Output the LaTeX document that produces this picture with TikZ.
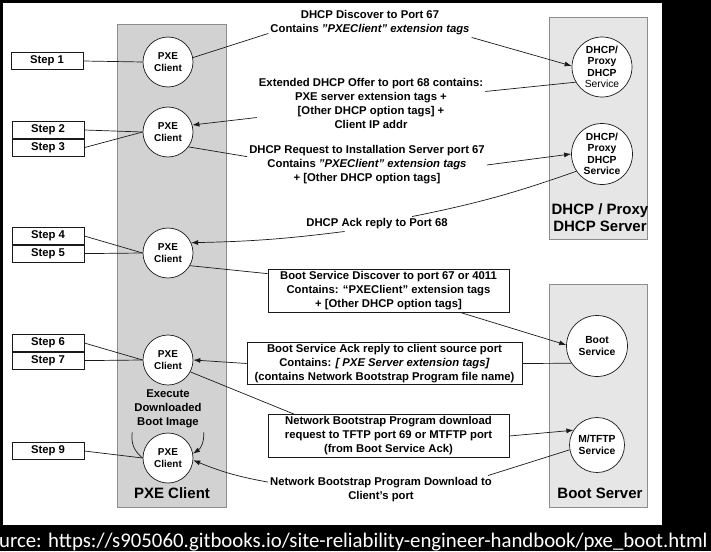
\documentclass[tikz,border=0pt]{standalone}
\usepackage{fontspec}
\setmainfont{Liberation Sans}
\newfontfamily\srcfont{Carlito}
\usetikzlibrary{arrows.meta,positioning}
\definecolor{ClientGray}{HTML}{D2D2D2}
\definecolor{ServerGray}{HTML}{E6E6E6}
\definecolor{Frame}{HTML}{8C8C8C}
\definecolor{Ink}{HTML}{1A1A1A}
\newcommand\plainquote{{\char34}}

\begin{document}
\begin{tikzpicture}[
  x=1pt,y=-1pt,
  client/.style={circle,draw=Ink,fill=white,line width=0.7pt,minimum size=50pt,inner sep=0pt,align=center,font=\bfseries\fontsize{10}{12}\selectfont},
  service/.style={circle,draw=Ink,fill=white,line width=0.7pt,minimum size=61pt,inner sep=0pt,align=center,font=\bfseries\fontsize{10.3}{11.5}\selectfont},
  stepbox/.style={draw=Ink,fill=white,line width=0.6pt,minimum width=72pt,minimum height=17pt,inner sep=0pt,font=\bfseries\fontsize{11.3}{13}\selectfont},
  msg/.style={align=center,inner sep=2pt,font=\bfseries\fontsize{11.3}{14}\selectfont},
  msgbox/.style={msg,draw=Ink,fill=white,line width=0.7pt},
  title/.style={align=center,font=\bfseries\fontsize{15}{17}\selectfont},
  link/.style={draw=Ink,line width=0.7pt},
  arrow/.style={link,-{Latex[length=7pt,width=5pt]}}
]
\useasboundingbox (0,0) rectangle (711,551);
\fill[black] (0,0) rectangle (711,551);
\fill[white] (3,3) rectangle (662,525);

% columns
\filldraw[fill=ClientGray,draw=Frame,line width=0.8pt] (117,24) rectangle (226,507);
\filldraw[fill=ServerGray,draw=Frame,line width=0.8pt] (549,17) rectangle (647,239);
\filldraw[fill=ServerGray,draw=Frame,line width=0.8pt] (549,284) rectangle (647,507);
\node[title] (tclient) at (172,493) {PXE Client};
\node[title] (tdhcp) at (600,218) {DHCP / Proxy\\DHCP Server};
\node[title] (tboot) at (600,493) {Boot Server};

% PXE client states
\node[client] (c1) at (168,62) {PXE\\Client};
\node[client] (c2) at (168,132) {PXE\\Client};
\node[client] (c3) at (168,253) {PXE\\Client};
\node[client] (c4) at (168,360) {PXE\\Client};
\node[client] (c5) at (168,458) {PXE\\Client};
\node[msg] (exec) at (168,409) {Execute\\Downloaded\\Boot Image};

% servers
\node[service,minimum size=60pt] (dhcpA) at (602,67) {DHCP/\\Proxy\\DHCP\\{\mdseries Service}};
\node[service] (dhcpB) at (602,154) {DHCP/\\Proxy\\DHCP\\Service};
\node[service] (boot) at (597,346) {Boot\\Service};
\node[service,minimum size=55pt] (tftp) at (597,445) {M/TFTP\\Service};

% steps
\node[stepbox] (s1) at (47,61) {Step 1};
\node[stepbox] (s2) at (48,130) {Step 2};
\node[stepbox,below=0pt of s2] (s3) {Step 3};
\node[stepbox] (s4) at (48,236) {Step 4};
\node[stepbox,below=0pt of s4] (s5) {Step 5};
\node[stepbox] (s6) at (48,343) {Step 6};
\node[stepbox,below=0pt of s6] (s7) {Step 7};
\node[stepbox] (s9) at (48,451) {Step 9};
\draw[link] (s1.east) -- (c1.west);
\draw[link] (s2.east) -- (c2.west);
\draw[link] (s3.east) -- (c2.west);
\draw[link] (s4.east) -- (c3.west);
\draw[link] (s5.east) -- (c3.west);
\draw[link] (s6.east) -- (c4.west);
\draw[link] (s7.east) -- (c4.west);
\draw[link] (s9.east) -- (c5.west);

% messages
\node[msg] (m1) at (370,23) {DHCP Discover to Port 67\\Contains \textit{\plainquote PXEClient\plainquote{} extension tags}};
\node[msg] (m2) at (371,103.5) {Extended DHCP Offer to port 68 contains:\\PXE server extension tags +\\{[}Other DHCP option tags] +\\Client IP addr};
\node[msg] (m3) at (367,165) {DHCP Request to Installation Server port 67\\Contains \textit{\plainquote PXEClient\plainquote{} extension tags}\\+ [Other DHCP option tags]};
\node[msg] (m4) at (377,224) {DHCP Ack reply to Port 68};
\node[msgbox,minimum width=241pt,minimum height=43pt] (m5) at (388.5,290.5) {Boot Service Discover to port 67 or 4011\\Contains: “PXEClient” extension tags\\+ [Other DHCP option tags]};
\node[msgbox,minimum width=275pt,minimum height=41pt] (m6) at (384.5,363.5) {Boot Service Ack reply to client source port\\Contains: \textit{[ PXE Server extension tags]}\\(contains Network Bootstrap Program file name)};
\node[msgbox,minimum width=241pt,minimum height=42pt] (m7) at (388.5,436) {Network Bootstrap Program download\\request to TFTP port 69 or MTFTP port\\(from Boot Service Ack)};
\node[msg] (m8) at (381,490) {Network Bootstrap Program Download to\\Client's port};

\draw[link] (c1.10) -- ([yshift=4pt]m1.south west);
\draw[arrow] (m1.south east) -- (dhcpA.178);
\draw[link] (dhcpA.210) -- (m2.6);
\draw[arrow] (m2.187) -- (c2.16);
\draw[link] (c2.-36) -- (m3.176);
\draw[arrow] (m3.east) -- (dhcpB.west);
\draw[link] (dhcpB.214) to[bend left=4] (m4.12);
\draw[arrow] (m4.193) to[bend left=3] (c3.24);
\draw[link] (c3.-30) -- ([yshift=-5pt]m5.north west);
\draw[arrow] (m5.-17) -- (boot.178);
\draw[link] (boot.214) -- (m6.east);
\draw[arrow] (m6.west) -- (c4.east);
\draw[link] (c4.-28) -- ([xshift=27pt]m7.north west);
\draw[arrow] (m7.east) -- (tftp.148);
\draw[link] (tftp.190) -- ([xshift=-6pt]m8.north east);
\draw[arrow] (m8.176) to[bend left=6] (c5.-5);

% boot image loop
\draw[link] ([yshift=-2pt]exec.south west) to[bend right=30] (c5.west);
\draw[arrow] ([yshift=-2pt]exec.south east) to[bend left=30] (c5.10);

\node[anchor=base west,inner sep=0pt,text=white,font=\srcfont\fontsize{20.8}{24}\selectfont] (src) at (-1,547) {urce: https://s905060.gitbooks.io/site-reliability-engineer-handbook/pxe\_boot.html};
\end{tikzpicture}
\end{document}
